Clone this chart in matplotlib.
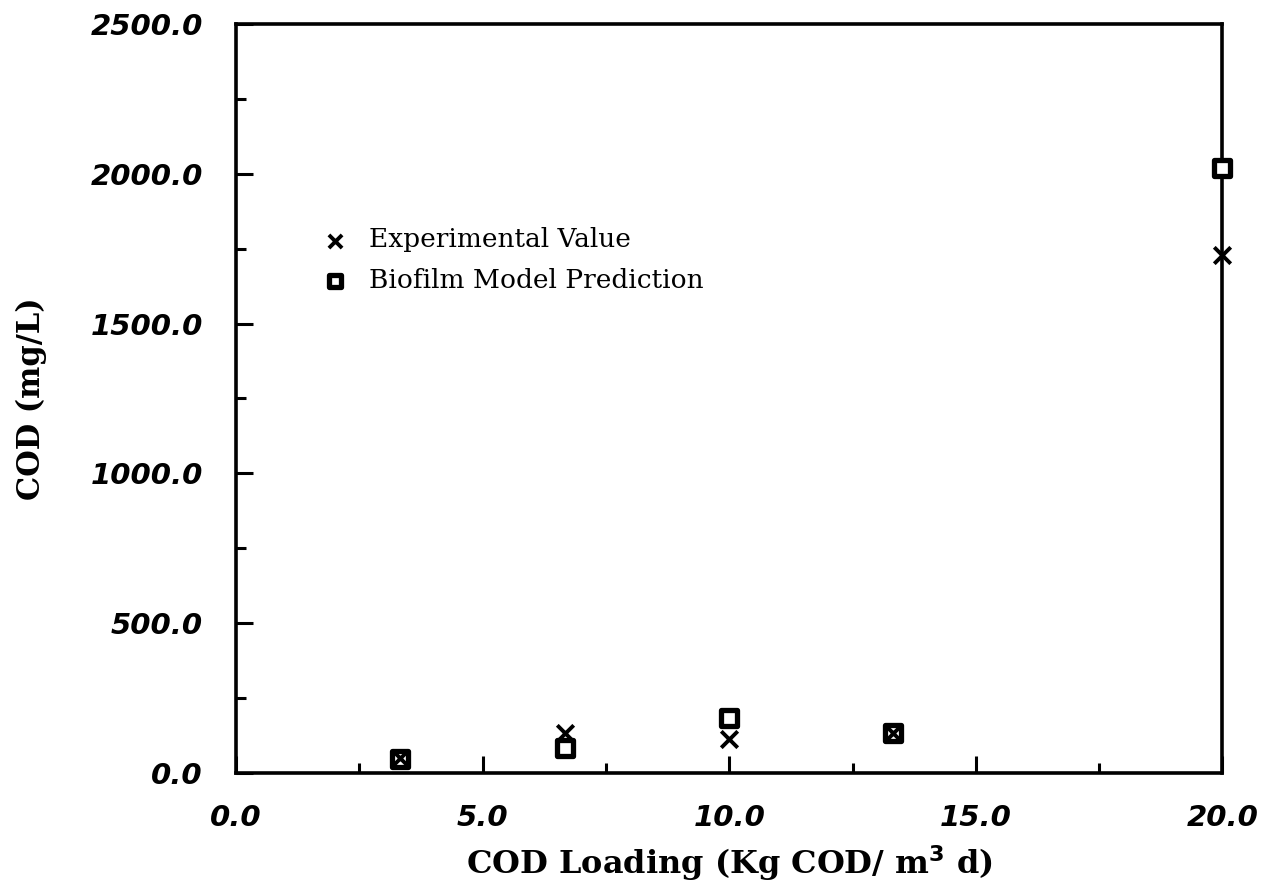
import matplotlib
matplotlib.use("Agg")
import matplotlib.pyplot as plt
from matplotlib.ticker import MultipleLocator

## Data
loading = [3.33, 6.67, 10.0, 13.33, 20.0]
experimental = [50, 135, 115, 132, 1730]
model = [48, 85, 183, 135, 2020]

x_ticks = [0.0, 5.0, 10.0, 15.0, 20.0]
y_ticks = [0.0, 500.0, 1000.0, 1500.0, 2000.0, 2500.0]

fig = plt.figure(figsize=(12.76, 8.86), dpi=100)
ax = fig.add_axes([0.185, 0.1275, 0.773, 0.8455])

ax.scatter(loading, model, marker="s", s=120, facecolor="white",
           edgecolor="black", linewidth=3.8, zorder=3,
           label="Biofilm Model Prediction", clip_on=False)
ax.scatter(loading, experimental, marker="x", s=140, color="black",
           linewidth=2.8, zorder=4, label="Experimental Value", clip_on=False)

ax.set_xlim(0, 20)
ax.set_ylim(0, 2500)
ax.set_xticks(x_ticks)
ax.set_yticks(y_ticks)
ax.xaxis.set_minor_locator(MultipleLocator(2.5))
ax.yaxis.set_minor_locator(MultipleLocator(250))
ax.set_xticklabels(["%.1f" % v for v in x_ticks])
ax.set_yticklabels(["%.1f" % v for v in y_ticks])

ax.tick_params(which="both", direction="in", width=2.2, top=False, right=False)
ax.tick_params(which="major", length=12)
ax.tick_params(which="minor", length=7)
ax.tick_params(axis="y", pad=24)
ax.tick_params(axis="x", pad=22)

for lbl in ax.get_xticklabels() + ax.get_yticklabels():
    lbl.set_fontfamily("DejaVu Sans")
    lbl.set_fontweight("bold")
    lbl.set_fontstyle("italic")
    lbl.set_fontsize(21)

for sp in ax.spines.values():
    sp.set_linewidth(2.6)

ax.set_xlabel("COD Loading (Kg COD/ m$^\\mathbf{3}$ d)", fontfamily="DejaVu Serif",
              fontweight="bold", fontsize=23)
ax.set_ylabel("COD (mg/L)", fontfamily="DejaVu Serif", fontweight="bold",
              fontsize=22)
ax.xaxis.set_label_coords(0.5, -0.094)
ax.yaxis.set_label_coords(-0.192, 0.5)

handles, labels = ax.get_legend_handles_labels()
leg = ax.legend(handles[::-1], labels[::-1], loc="upper left",
                bbox_to_anchor=(0.06, 0.76), frameon=False,
                prop={"family": "DejaVu Serif", "size": 19},
                handletextpad=0.7, labelspacing=0.6, handlelength=1.2,
                markerscale=0.8)

fig.savefig("out.png", dpi=100)
